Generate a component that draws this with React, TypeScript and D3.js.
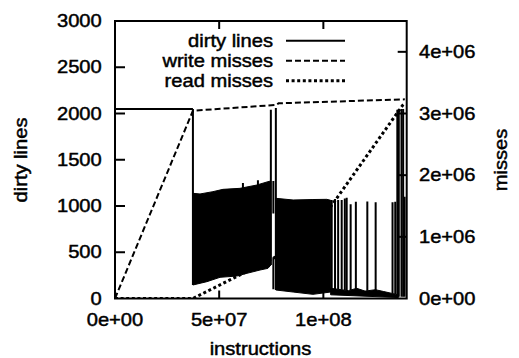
import React from "react";
import * as d3 from "d3";

const W = 519;
const H = 358;

// axes
const xTicks = [0, 5e7, 1e8];
const xTickLabels = ["0e+00", "5e+07", "1e+08"];
const yTicks = [0, 500, 1000, 1500, 2000, 2500, 3000];
const yTickLabels = ["0", "500", "1000", "1500", "2000", "2500", "3000"];
const y2Ticks = [0, 1e6, 2e6, 3e6, 4e6];
const y2TickLabels = ["0e+00", "1e+06", "2e+06", "3e+06", "4e+06"];

// dirty lines (left axis)
const dirtyFlat: [number, number][] = [
  [0, 2048],
  [3.74e7, 2048],
];
const band1Upper: [number, number][] = [
  [3.74e7, 1137], [4.08e7, 1130], [4.7e7, 1155], [5.18e7, 1180], [6.0e7, 1191],
  [6.81e7, 1227], [7.34e7, 1263], [7.48e7, 1270],
];
const band1Lower: [number, number][] = [
  [3.74e7, 146], [4.41e7, 182], [5.04e7, 229], [5.85e7, 243], [6.33e7, 272],
  [6.96e7, 308], [7.34e7, 326], [7.48e7, 362],
];
const band2Upper: [number, number][] = [
  [7.72e7, 1083], [8.55e7, 1065], [9.5e7, 1070], [1.016e8, 1072], [1.035e8, 1062],
];
const band2Lower: [number, number][] = [
  [7.72e7, 92], [8.55e7, 70], [9.5e7, 45], [1.035e8, 70],
];
const sparseUpper: [number, number][] = [
  [1.035e8, 110], [1.07e8, 100], [1.12e8, 85], [1.16e8, 110], [1.2e8, 80],
  [1.25e8, 95], [1.29e8, 75], [1.33e8, 55], [1.36e8, 40],
];
const sparseLower: [number, number][] = [
  [1.035e8, 40], [1.2e8, 25], [1.36e8, 10],
];
// spikes: [x, low, high]
const dirtySpikes: [number, number, number][] = [
  [3.74e7, 146, 2048],
  [6.14e7, 1180, 1249],
  [6.86e7, 1220, 1278],
  [7.48e7, 362, 2040],
  [7.6e7, 920, 1270],
  [7.6e7, 100, 446],
  [7.72e7, 92, 2060],
  [1.04e8, 100, 1065],
  [1.056e8, 100, 1075],
  [1.071e8, 100, 1065],
  [1.088e8, 95, 1065],
  [1.103e8, 90, 1080],
  [1.112e8, 85, 1090],
  [1.131e8, 90, 1018],
  [1.156e8, 100, 1046],
  [1.211e8, 85, 1050],
  [1.251e8, 90, 1040],
  [1.332e8, 55, 1040],
  [1.345e8, 50, 1046],
  [1.355e8, 20, 2040],
  [1.362e8, 20, 2048],
  [1.375e8, 20, 2050],
  [1.383e8, 20, 2048],
  [1.39e8, 20, 1100],
];

// misses (right axis)
const writeMisses: [number, number][] = [
  [0, 0], [3.74e7, 3.045e6], [7.75e7, 3.14e6], [7.85e7, 3.165e6], [1.391e8, 3.23e6],
];
const readMisses: [number, number][] = [
  [0, 0], [3.74e7, 0], [9.16e7, 0.92e6], [1.382e8, 3.14e6], [1.391e8, 3.17e6],
];

const legendLabels = ["dirty lines", "write misses", "read misses"];

const FONT = "'Liberation Sans', Arial, Helvetica, sans-serif";

function T(props: {
  x: number;
  y: number;
  anchor?: string;
  rotate?: boolean;
  children: React.ReactNode;
}) {
  const { x, y, anchor = "start", rotate = false, children } = props;
  return (
    <text
      transform={`translate(${x},${y})${rotate ? " rotate(-90)" : ""} scale(1.15,1)`}
      textAnchor={anchor}
      fontSize={17.5}
      fontFamily={FONT}
      fill="#000"
      stroke="#000"
      strokeWidth={0.45}
    >
      {children}
    </text>
  );
}

export default function App() {
  const L = 115, R = 406.7, TOP = 21, B = 298.5;
  const x = d3.scaleLinear().domain([0, 1.4e8]).range([L, R]);
  const y = d3.scaleLinear().domain([0, 3000]).range([B, TOP]);
  const y2 = d3.scaleLinear().domain([0, 4.5e6]).range([B, TOP]);

  const lineL = d3.line<[number, number]>().x((d) => x(d[0])).y((d) => y(d[1]));
  const lineR = d3.line<[number, number]>().x((d) => x(d[0])).y((d) => y2(d[1]));
  const band = (up: [number, number][], lo: [number, number][]) =>
    lineL([...up, ...lo.slice().reverse()]) + "Z";

  const legY = [40.7, 60.7, 80.7];
  const dashes = [undefined, "6,3", "3,2.6"];
  const widths = [2, 2, 3];

  return (
    <svg
      width={W}
      height={H}
      style={{ position: "absolute", left: 0, top: 0, background: "#fff" }}
    >
      <defs>
        <clipPath id="plotclip">
          <rect x={L} y={TOP} width={R - L} height={B - TOP} />
        </clipPath>
      </defs>
      <rect x={0} y={0} width={W} height={H} fill="#fff" />

      <g clipPath="url(#plotclip)">
        {/* dirty lines */}
        <g fill="#000" stroke="#000" strokeWidth={1}>
          <path d={band(band1Upper, band1Lower)} />
          <path d={band(band2Upper, band2Lower)} />
          <path d={band(sparseUpper, sparseLower)} />
        </g>
        <path d={lineL(dirtyFlat)!} fill="none" stroke="#000" strokeWidth={2} />
        {dirtySpikes.map((s, i) => (
          <line
            key={i}
            x1={x(s[0])}
            x2={x(s[0])}
            y1={y(s[1])}
            y2={y(s[2])}
            stroke="#000"
            strokeWidth={2}
          />
        ))}

        {/* misses */}
        <path
          d={lineR(writeMisses)!}
          fill="none"
          stroke="#000"
          strokeWidth={2}
          strokeDasharray="6,3"
        />
        <path
          d={lineR(readMisses)!}
          fill="none"
          stroke="#000"
          strokeWidth={3}
          strokeDasharray="3,2.6"
        />
      </g>

      {/* frame */}
      <rect x={L} y={TOP} width={R - L} height={B - TOP} fill="none" stroke="#000" strokeWidth={2} />

      {/* ticks */}
      <g stroke="#000" strokeWidth={2}>
        {yTicks.slice(1, -1).map((t) => (
          <line key={"yl" + t} x1={L} x2={L + 10} y1={y(t)} y2={y(t)} />
        ))}
        {y2Ticks.slice(1).map((t) => (
          <line key={"yr" + t} x1={R} x2={R - 9} y1={y2(t)} y2={y2(t)} />
        ))}
        {xTicks.slice(1).map((t) => (
          <g key={"x" + t}>
            <line x1={x(t)} x2={x(t)} y1={B} y2={B - 8} />
            <line x1={x(t)} x2={x(t)} y1={TOP} y2={TOP + 8} />
          </g>
        ))}
      </g>

      {/* tick labels */}
      {yTicks.map((t, i) => (
        <T key={"yt" + t} x={101.7} y={y(t) + 6.2} anchor="end">
          {yTickLabels[i]}
        </T>
      ))}
      {y2Ticks.map((t, i) => (
        <T key={"y2t" + t} x={419} y={y2(t) + 6.2} anchor="start">
          {y2TickLabels[i]}
        </T>
      ))}
      {xTicks.map((t, i) => (
        <T key={"xt" + t} x={x(t)} y={326} anchor="middle">
          {xTickLabels[i]}
        </T>
      ))}

      {/* axis titles */}
      <T x={260.5} y={355} anchor="middle">instructions</T>
      <T x={27} y={160} anchor="middle" rotate>dirty lines</T>
      <T x={507} y={160} anchor="middle" rotate>misses</T>

      {/* legend */}
      {legendLabels.map((lab, i) => (
        <g key={lab}>
          <T x={273} y={legY[i] + 6} anchor="end">{lab}</T>
          <line
            x1={286}
            x2={345}
            y1={legY[i]}
            y2={legY[i]}
            stroke="#000"
            strokeWidth={widths[i]}
            strokeDasharray={dashes[i]}
          />
        </g>
      ))}
    </svg>
  );
}
